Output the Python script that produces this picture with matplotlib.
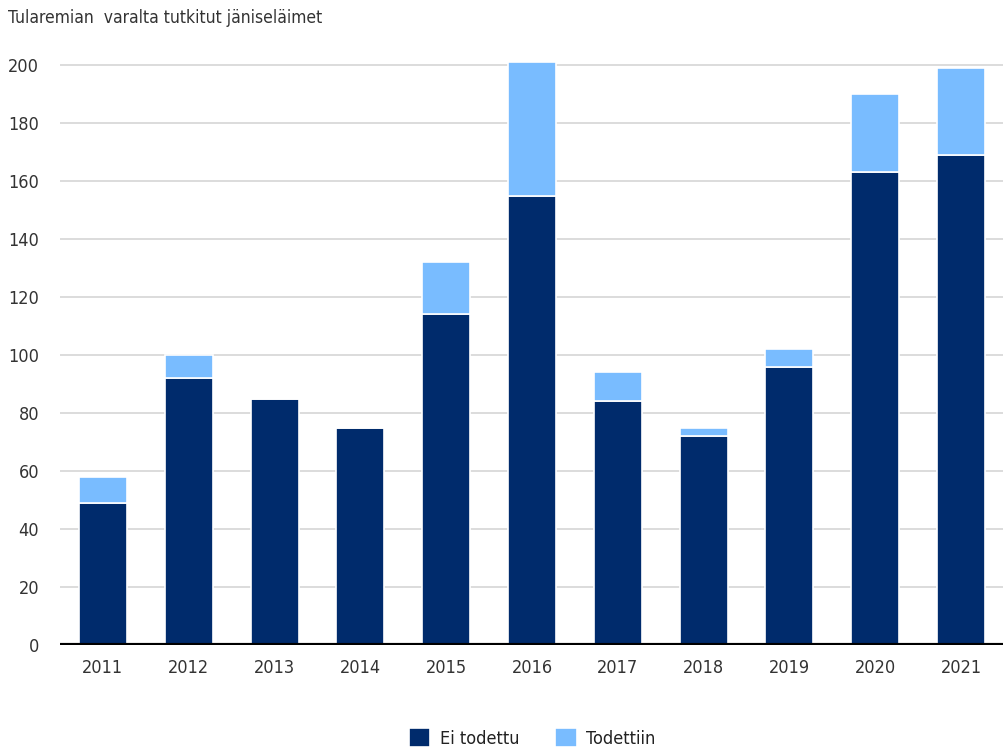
import matplotlib.pyplot as plt
import numpy as np

# Tularemia-tutkimukset vuosittain
vuodet = ['2011', '2012', '2013', '2014', '2015', '2016', '2017', '2018', '2019', '2020', '2021']
ei_todettu = [49, 92, 85, 75, 114, 155, 84, 72, 96, 163, 169]
todettiin = [9, 8, 0, 0, 18, 46, 10, 3, 6, 27, 30]

tumma = '#002b6c'
vaalea = '#79bcff'
teksti = '#333333'

plt.rcParams['font.family'] = ['DejaVu Sans']
plt.rcParams['font.stretch'] = 'condensed'

fig = plt.figure(figsize=(10.04, 7.51), dpi=100)
ax = fig.add_axes([60 / 1004, 106 / 751, 944 / 1004, 594.5 / 751])

x = np.arange(len(vuodet))
ax.bar(x, ei_todettu, width=0.56, color=tumma, edgecolor='white', linewidth=1.2,
       label='Ei todettu', zorder=3)
ax.bar(x, todettiin, width=0.56, bottom=ei_todettu, color=vaalea, edgecolor='white',
       linewidth=1.2, label='Todettiin', zorder=3)

ax.set_xlim(-0.5, len(vuodet) - 0.5)
ax.set_ylim(0, 205)
ax.set_yticks(range(0, 201, 20))
ax.set_xticks(x)
ax.set_xticklabels(vuodet)
ax.yaxis.grid(True, color='#d9d9d9', linewidth=1.3, zorder=0)
ax.axhline(0, color='black', linewidth=3, zorder=4)

for s in ax.spines.values():
    s.set_visible(False)
ax.tick_params(length=0, labelsize=13, colors=teksti)
ax.tick_params(axis='y', pad=15)
ax.tick_params(axis='x', pad=10)

fig.text(8 / 1004, 1 - 18 / 751, 'Tularemian  varalta tutkitut jäniseläimet',
         fontsize=12.5, color=teksti, va='center', ha='left')

fig.legend(loc='center', bbox_to_anchor=(532 / 1004, 1 - 738 / 751), ncol=2,
           frameon=False, fontsize=13, handlelength=1.2, handleheight=1.2,
           columnspacing=2.0, handletextpad=0.5, labelcolor='#222222')

fig.savefig('out.png', dpi=100)
